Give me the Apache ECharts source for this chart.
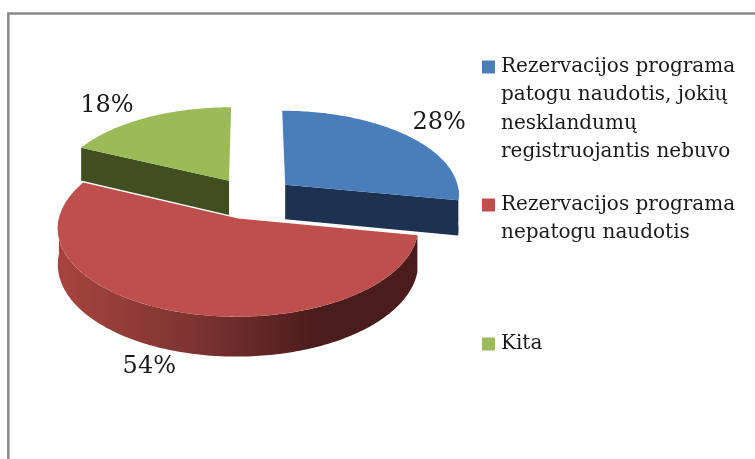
<!DOCTYPE html>
<html>
<head>
<meta charset="utf-8">
<style>
  html, body { margin: 0; padding: 0; background: #fff; }
  #chart { width: 755px; height: 459px; }
</style>
<script src="https://cdn.jsdelivr.net/npm/echarts@6/dist/echarts.min.js"></script>
</head>
<body>
<div id="chart"></div>
<script>
const sliceNames = [
  "Rezervacijos programa\npatogu naudotis, jokių\nnesklandumų\nregistruojantis nebuvo",
  "Rezervacijos programa\nnepatogu naudotis",
  "Kita",
];
const sliceValues = [28, 54, 18];

const topColors = ["#4a7ebb", "#be4f4c", "#9bbb59"];
const wallColors = ["#1d3250", "#4b1c1c", "#414f20"];
const paintOrder = [2, 3, 1];
const labelOffsets = [[31, -13], [-26, 16], [-39, -12]];
const legendTops = [67, 205, 344];

const FONT = "DejaVu Serif";
const LEGEND_LINE = 28.2;
const CX = 252, CY = 198; // pie centre before the slices are pulled apart
const RX = 175, RY = 84, DEPTH = 35;
const EXPLODE = 0.25, PERSPECTIVE = 0.1;

const total = sliceValues.reduce((a, b) => a + b, 0);
const rad = (d) => (d * Math.PI) / 180;

function project(x, z, drop) {
  const s = 1 / (1 + PERSPECTIVE * z);
  return [CX + RX * x * s, CY - RY * z * s + drop * s];
}

function renderSlice(index, api) {
  const value = api.value(0);
  let start = 0;
  for (let i = 0; i < index; i++) start += (sliceValues[i] / total) * 360;
  const end = start + (value / total) * 360;
  const mid = (start + end) / 2;
  const ox = EXPLODE * Math.sin(rad(mid));
  const oz = EXPLODE * Math.cos(rad(mid));
  const rim = (deg, drop) => project(ox + Math.sin(rad(deg)), oz + Math.cos(rad(deg)), drop);
  const apex = (drop) => project(ox, oz, drop);
  const children = [];

  const arc = (a, b, drop) => {
    const pts = [];
    const n = Math.max(2, Math.ceil(Math.abs(b - a)));
    for (let i = 0; i <= n; i++) pts.push(rim(a + ((b - a) * i) / n, drop));
    return pts;
  };
  const face = (deg) => ({
    type: "polygon",
    shape: { points: [apex(0), rim(deg, 0), rim(deg, DEPTH), apex(DEPTH)] },
    style: { fill: wallColors[index] },
  });

  // cut faces, only the ones turned to the viewer
  if (Math.cos(rad(start - 90)) < -1e-6) children.push(face(start));
  if (Math.cos(rad(end + 90)) < -1e-6) children.push(face(end));

  // outer wall, front half only
  const a = Math.max(start, 90), b = Math.min(end, 270);
  if (b > a) {
    const fill = index === 1
      ? new echarts.graphic.LinearGradient(0, 0, 1, 0, [
          { offset: 0, color: "#a8443f" },
          { offset: 0.4, color: "#7a3331" },
          { offset: 0.72, color: "#4b1c1c" },
          { offset: 1, color: "#4b1c1c" },
        ])
      : wallColors[index];
    children.push({
      type: "polygon",
      shape: { points: arc(a, b, 0).concat(arc(b, a, DEPTH)) },
      style: { fill },
    });
  }

  // top surface
  children.push({
    type: "polygon",
    shape: { points: [apex(0)].concat(arc(start, end, 0)) },
    style: { fill: topColors[index] },
  });

  // percent label
  const anchor = rim(mid, mid > 90 && mid < 270 ? DEPTH : 0);
  children.push({
    type: "text",
    style: {
      text: value + "%",
      x: anchor[0] + labelOffsets[index][0],
      y: anchor[1] + labelOffsets[index][1],
      align: "center",
      verticalAlign: "middle",
      fontFamily: FONT,
      fontSize: 24,
      fill: "#1a1a1a",
    },
  });

  return { type: "group", children };
}

const chart = echarts.init(document.getElementById("chart"));

chart.setOption({
  animation: false,
  backgroundColor: "#fff",
  // one legend per entry: the icon sits on the middle of the text block,
  // so blank lines above push the first text line level with the icon
  legend: sliceNames.map((name, i) => {
    const blanks = name.split("\n").length - 1;
    return {
      data: [name],
      orient: "vertical",
      left: 482,
      top: legendTops[i] - LEGEND_LINE / 2 - blanks * LEGEND_LINE,
      padding: 0,
      icon: "rect",
      itemWidth: 13,
      itemHeight: 13,
      itemGap: 0,
      selectedMode: false,
      formatter: (n) => "\n".repeat(blanks) + n,
      textStyle: {
        fontFamily: FONT,
        fontSize: 20,
        lineHeight: LEGEND_LINE,
        color: "#1a1a1a",
        padding: [0, 0, 0, 1],
      },
    };
  }),
  graphic: [
    {
      type: "polyline",
      shape: { points: [[8.3, 459], [8.3, 13.5], [755, 13.5]] },
      style: { stroke: "#8a8a8a", lineWidth: 2.5, fill: null },
      silent: true,
    },
  ],
  series: sliceNames.map((name, i) => ({
    type: "custom",
    name,
    coordinateSystem: "none",
    z: paintOrder[i],
    silent: true,
    itemStyle: { color: topColors[i] },
    data: [[sliceValues[i]]],
    renderItem: (params, api) => renderSlice(i, api),
  })),
});
</script>
</body>
</html>
